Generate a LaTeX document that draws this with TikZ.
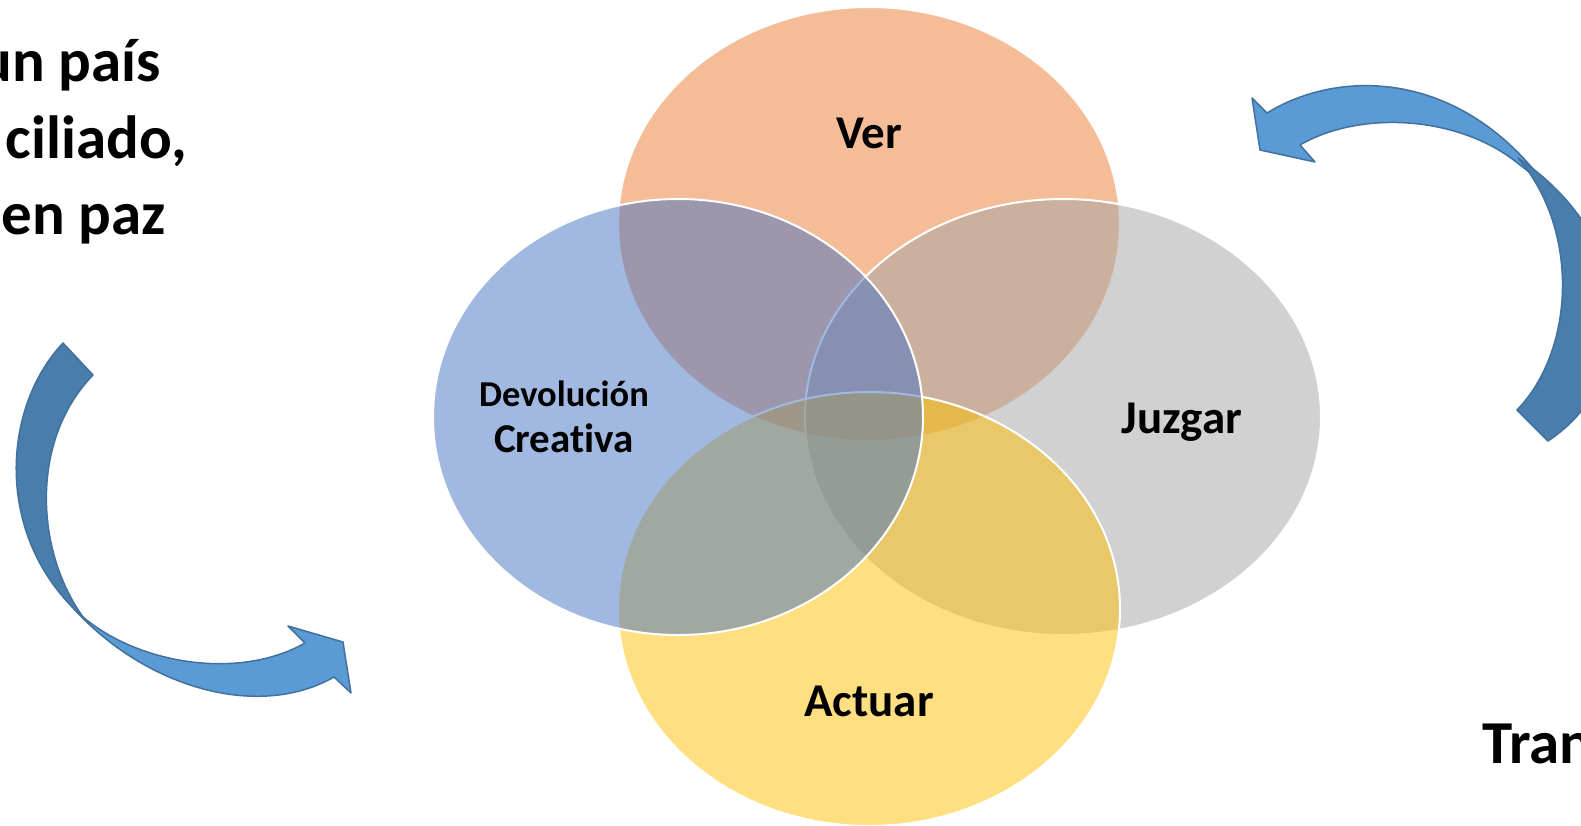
\documentclass[tikz,border=0pt]{standalone}
\usepackage{fontspec}
\setmainfont{Carlito}[Ligatures=NoCommon]

\definecolor{orangeV}{HTML}{ED7D31}
\definecolor{bleuD}{HTML}{4472C4}
\definecolor{grisJ}{HTML}{A5A5A5}
\definecolor{jauneA}{HTML}{FFC000}
\definecolor{flecheClair}{HTML}{5B9BD5}
\definecolor{flecheFonce}{HTML}{497DAC}
\definecolor{flecheBord}{HTML}{41719C}

\tikzset{
  cercle/.style={draw=white, line width=2pt, fill opacity=0.5},
  etiquette/.style={font=\bfseries\fontsize{47}{50}\selectfont, inner sep=0pt, anchor=base},
  grand/.style={font=\bfseries\fontsize{61}{70}\selectfont, inner sep=0pt},
  fleche/.style={draw=flecheBord, line width=1.5pt, line join=round},
}

\begin{document}
\begin{tikzpicture}[x=1pt, y=-1pt]
\useasboundingbox (0,0) rectangle (1581,825);
\fill[white] (0,0) rectangle (1581,825);

% Ellipses
\path[cercle, fill=orangeV] (869,224) ellipse [x radius=251pt, y radius=217pt];
\path[cercle, fill=grisJ] (1063,417) ellipse [x radius=258pt, y radius=218pt];
\path[cercle, fill=jauneA] (869,609) ellipse [x radius=251pt, y radius=217pt];
\path[cercle, fill=bleuD] (678,417) ellipse [x radius=245pt, y radius=218pt];

% Etiquettes
\node[etiquette] (ver) at (869,148) {Ver};
\node[etiquette] (juzgar) at (1182,433) {Juzgar};
\node[etiquette] (actuar) at (869,716) {Actuar};
\node[etiquette, font=\bfseries\fontsize{36.5}{40}\selectfont] (devolucion) at (564,406) {Devolución};
\node[etiquette, font=\bfseries\fontsize{41}{45}\selectfont] (creativa) at (564,452) {Creativa};

% Textes
\node[grand, anchor=base east] (pais) at (161,81) {un país};
\node[grand, anchor=base east] (ciliado) at (187,158) {ciliado,};
\node[grand, anchor=base east] (paz) at (166,234) {en paz};
\node[grand, anchor=base west] (tran) at (1482,763) {Tran};

% Flèche gauche
\filldraw[fleche, fill=flecheClair]
  (50,579) .. controls (120,680) and (250,725) .. (334,677)
  -- (351,693) -- (343,642) -- (288,626) -- (305,643)
  .. controls (240,680) and (140,665) .. (83,617) -- cycle;
\filldraw[fleche, fill=flecheFonce]
  (63,343) .. controls (0,410) and (-5,540) .. (83,617)
  .. controls (35,550) and (30,440) .. (93,375) -- cycle;

% Flèche droite
\filldraw[fleche, fill=flecheClair]
  (1545,184) .. controls (1460,70) and (1340,68) .. (1267,113)
  -- (1252,98) -- (1260,150) -- (1315,162) -- (1300,145)
  .. controls (1360,110) and (1460,115) .. (1520,165) -- cycle;
\filldraw[fleche, fill=flecheFonce]
  (1517,410) .. controls (1575,350) and (1580,230) .. (1518,158)
  .. controls (1640,240) and (1640,380) .. (1548,441) -- cycle;

\end{tikzpicture}
\end{document}
